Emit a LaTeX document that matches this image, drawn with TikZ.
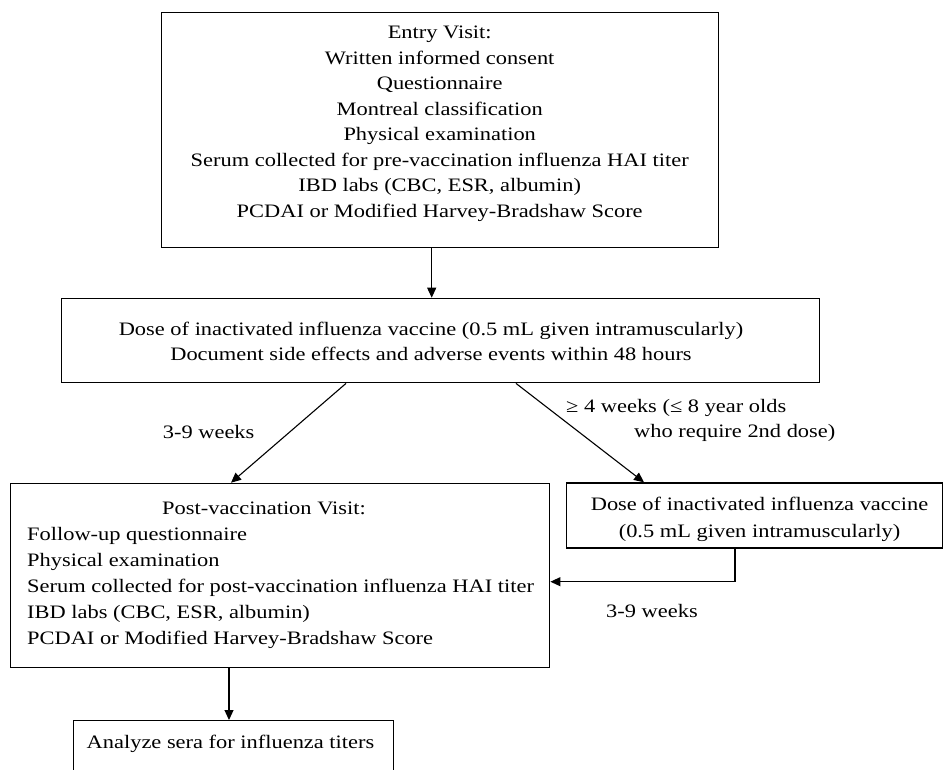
\documentclass[tikz,border=0pt]{standalone}
\usepackage{fontspec}
\setmainfont{Liberation Serif}[FakeStretch=1.18]
\usetikzlibrary{arrows.meta}
\begin{document}
\begin{tikzpicture}[x=1pt,y=-1pt,
  box/.style={draw, line width=1.4pt, inner sep=0pt, rectangle, anchor=north west},
  conn/.style={line width=1.1pt, -{Triangle[length=10pt,width=9pt]}},
  txt/.style={inner sep=0pt, font=\fontsize{19}{25.5}\selectfont}]
\clip (0,0) rectangle (944,769);
\fill[white] (0,0) rectangle (944,769);
% boxes
\node[box, minimum width=557pt, minimum height=235.2pt] (entry) at (161,11.5) {};
\node[box, minimum width=758.3pt, minimum height=84.3pt] (dose1) at (60.7,297.7) {};
\node[box, minimum width=539pt, minimum height=184pt] (post) at (10,482.7) {};
\node[box, minimum width=376pt, minimum height=65pt] (dose2) at (566,482.3) {};
\node[box, minimum width=320pt, minimum height=80pt] (analyze) at (72.7,720) {};
% texts (base anchor = baseline of the last line)
\node[txt, align=center, anchor=base] (entrytxt) at (439.7,217) {Entry Visit:\\Written informed consent\\Questionnaire\\Montreal classification\\Physical examination\\Serum collected for pre-vaccination influenza HAI titer\\IBD labs (CBC, ESR, albumin)\\PCDAI or Modified Harvey-Bradshaw Score};
\node[txt, align=center, anchor=base, font=\fontsize{19}{25}\selectfont] (dose1txt) at (431,360) {Dose of inactivated influenza vaccine (0.5 mL given intramuscularly)\\Document side effects and adverse events within 48 hours};
\node[txt, anchor=base west] (posttitle) at (162,514) {Post-vaccination Visit:};
\node[txt, align=left, anchor=base west, font=\fontsize{19}{25.9}\selectfont] (posttxt) at (27,644) {Follow-up questionnaire\\Physical examination\\Serum collected for post-vaccination influenza HAI titer\\IBD labs (CBC, ESR, albumin)\\PCDAI or Modified Harvey-Bradshaw Score};
\node[txt, align=center, anchor=base, font=\fontsize{19}{27}\selectfont] (dose2txt) at (759.5,537) {Dose of inactivated influenza vaccine\\(0.5 mL given intramuscularly)};
\node[txt, anchor=base] (analyzetxt) at (230.5,748) {Analyze sera for influenza titers};
% labels
\node[txt, anchor=base west] (lab1) at (162.7,438) {3-9 weeks};
\node[txt, anchor=base west] (lab2) at (566,412) {≥ 4 weeks (≤ 8 year olds};
\node[txt, anchor=base west] (lab3) at (634,437) {who require 2nd dose)};
\node[txt, anchor=base west] (lab4) at (606,617) {3-9 weeks};
% helper coordinates
\coordinate (c1) at (431.7,0);
\coordinate (c2) at (346,0);
\coordinate (c3) at (231,0);
\coordinate (c4) at (516,0);
\coordinate (c5) at (644,0);
\coordinate (c6) at (735,0);
\coordinate (c7) at (0,581.7);
\coordinate (c8) at (229,0);
% connectors
\draw[conn] (entry.south -| c1) -- (dose1.north -| c1);
\draw[conn] (dose1.south -| c2) -- (post.north -| c3);
\draw[conn] (dose1.south -| c4) -- (dose2.north -| c5);
\draw[conn] (dose2.south -| c6) |- (post.east |- c7);
\draw[conn] (post.south -| c8) -- (analyze.north -| c8);
\end{tikzpicture}
\end{document}
